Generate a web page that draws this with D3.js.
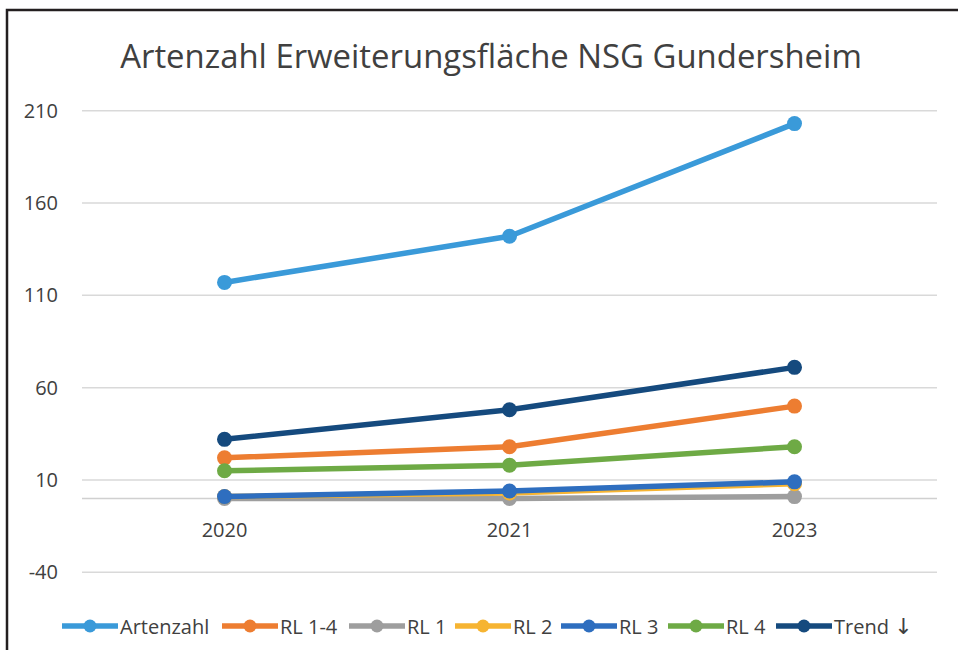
<!DOCTYPE html>
<html><head><meta charset="utf-8">
<script src="https://cdn.jsdelivr.net/npm/d3@7"></script>
<style>
html,body{margin:0;padding:0;background:#fff;}
svg{display:block;}
text{font-family:"Open Sans","Noto Sans",sans-serif;fill:#404040;}
</style></head>
<body>
<svg id="chart" width="958" height="650"></svg>
<script>
const titleText = "Artenzahl Erweiterungsfläche NSG Gundersheim";
const categories = ["2020", "2021", "2023"];
const yTicks = [-40, 10, 60, 110, 160, 210];
const seriesNames = ["Artenzahl", "RL 1-4", "RL 1", "RL 2", "RL 3", "RL 4", "Trend ↓"];
const seriesColors = ["#3A9AD9", "#ED7D31", "#9E9E9E", "#F6B432", "#2E6EBF", "#6EAA45", "#154A7E"];
const artenzahl = [117, 142, 203];
const rl14 = [22, 28, 50];
const rl1 = [0, 0, 1];
const rl2 = [1, 3, 8];
const rl3 = [1, 4, 9];
const rl4 = [15, 18, 28];
const trend = [32, 48, 71];
const seriesValues = [artenzahl, rl14, rl1, rl2, rl3, rl4, trend];

const svg = d3.select("#chart");

// frame
svg.append("path").attr("d", "M7,650 L7,10 L958,10")
  .attr("fill", "none").attr("stroke", "#231f20").attr("stroke-width", 2.5);

// title
const title = svg.append("text").attr("x", 491).attr("y", 68)
  .attr("text-anchor", "middle").style("font-size", "30px").text(titleText);
const tw = title.node().getComputedTextLength();
title.style("font-size", (30 * 742 / tw).toFixed(2) + "px");

const x = d3.scaleBand().domain(categories).range([82, 937]).padding(0);
const y = d3.scaleLinear().domain([-40, 210]).range([572.3, 110.7]);

// gridlines
const grid = svg.append("g");
grid.selectAll("line").data(yTicks).join("line")
  .attr("x1", 82).attr("x2", 937)
  .attr("y1", d => y(d)).attr("y2", d => y(d))
  .attr("stroke", "#d9d9d9").attr("stroke-width", 1.5);
// zero (category axis) line
svg.append("line").attr("x1", 82).attr("x2", 937).attr("y1", y(0)).attr("y2", y(0))
  .attr("stroke", "#d0d0d0").attr("stroke-width", 1.5);

// y axis labels
const yAxis = d3.axisLeft(y).tickValues(yTicks).tickSize(0).tickPadding(0).tickFormat(d => String(d));
const gy = svg.append("g").attr("transform", "translate(58,0)").call(yAxis);
gy.select(".domain").remove();
gy.selectAll("text").style("font-size", "20px").attr("fill", "#404040").style("font-family", '"Open Sans",sans-serif');

// x axis labels
const xAxis = d3.axisBottom(x).tickSize(0).tickPadding(0);
const gx = svg.append("g").attr("transform", "translate(0," + (y(0) + 31) + ")").call(xAxis);
gx.select(".domain").remove();
gx.selectAll("text").attr("dy", "0").attr("y", 0).attr("dominant-baseline", "central")
  .style("font-size", "20px").attr("fill", "#404040").style("font-family", '"Open Sans",sans-serif');

const cx = c => x(c) + x.bandwidth() / 2;
const line = d3.line().x((d, i) => cx(categories[i])).y(d => y(d));

seriesValues.forEach((vals, si) => {
  const g = svg.append("g");
  g.append("path").datum(vals).attr("d", line)
    .attr("fill", "none").attr("stroke", seriesColors[si]).attr("stroke-width", 5.5)
    .attr("stroke-linejoin", "round").attr("stroke-linecap", "round");
  g.selectAll("circle").data(vals).join("circle")
    .attr("cx", (d, i) => cx(categories[i])).attr("cy", d => y(d)).attr("r", 7.5)
    .attr("fill", seriesColors[si]);
});

// legend
const legendX = [62, 222, 349, 455, 561, 668, 776];
const leg = svg.append("g").attr("transform", "translate(0,626)");
seriesNames.forEach((name, i) => {
  const g = leg.append("g").attr("transform", "translate(" + legendX[i] + ",0)");
  g.append("line").attr("x1", 0).attr("x2", 56).attr("y1", 0).attr("y2", 0)
    .attr("stroke", seriesColors[i]).attr("stroke-width", 5.5);
  g.append("circle").attr("cx", 28).attr("cy", 0).attr("r", 6.5).attr("fill", seriesColors[i]);
  const t = g.append("text").attr("x", 58).attr("y", 0).attr("dominant-baseline", "central")
    .style("font-size", "20px");
  const parts = name.split("↓");
  t.append("tspan").text(parts[0]);
  if (parts.length > 1) {
    t.append("tspan").style("font-family", '"DejaVu Sans",sans-serif').style("font-size", "22px").text("↓");
  }
});
</script>
</body></html>
